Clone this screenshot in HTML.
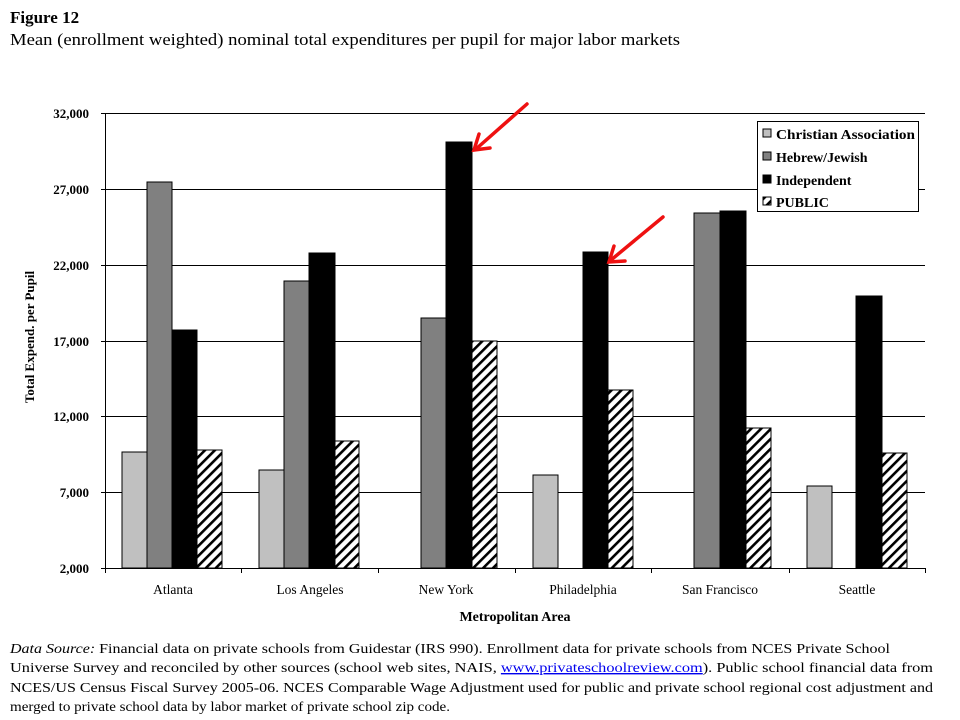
<!DOCTYPE html>
<html><head><meta charset="utf-8"><style>
html,body{margin:0;padding:0;background:#fff;}
svg{display:block;font-family:"Liberation Serif",serif;}
</style></head><body>
<svg width="960" height="720" viewBox="0 0 960 720" xmlns="http://www.w3.org/2000/svg">
<defs>
<pattern id="h" patternUnits="userSpaceOnUse" width="7" height="7" patternTransform="rotate(45)">
<rect width="7" height="7" fill="#fff"/><rect x="0" y="0" width="2.6" height="7" fill="#000"/>
</pattern>
</defs>
<text x="10" y="23" font-size="17" font-weight="bold">Figure 12</text>
<text x="10" y="45" font-size="16.5" textLength="670" lengthAdjust="spacingAndGlyphs">Mean (enrollment  weighted) nominal total expenditures per pupil for major labor markets</text>

<g stroke="#000" stroke-width="1">
<line x1="105" y1="113.5" x2="925" y2="113.5"/>
<line x1="105" y1="189.5" x2="925" y2="189.5"/>
<line x1="105" y1="265.5" x2="925" y2="265.5"/>
<line x1="105" y1="341.5" x2="925" y2="341.5"/>
<line x1="105" y1="416.5" x2="925" y2="416.5"/>
<line x1="105" y1="492.5" x2="925" y2="492.5"/>
</g>

<g stroke="#000" stroke-width="1">
<rect x="122" y="452" width="25" height="116" fill="#c0c0c0"/>
<rect x="147" y="182" width="25" height="386" fill="#808080"/>
<rect x="172" y="330" width="25" height="238" fill="#000"/>
<rect x="197" y="450" width="25" height="118" fill="url(#h)"/>
<rect x="259" y="470" width="25" height="98" fill="#c0c0c0"/>
<rect x="284" y="281" width="25" height="287" fill="#808080"/>
<rect x="309" y="253" width="26" height="315" fill="#000"/>
<rect x="335" y="441" width="24" height="127" fill="url(#h)"/>
<rect x="421" y="318" width="25" height="250" fill="#808080"/>
<rect x="446" y="142" width="26" height="426" fill="#000"/>
<rect x="472" y="341" width="25" height="227" fill="url(#h)"/>
<rect x="533" y="475" width="25" height="93" fill="#c0c0c0"/>
<rect x="583" y="252" width="25" height="316" fill="#000"/>
<rect x="608" y="390" width="25" height="178" fill="url(#h)"/>
<rect x="694" y="213" width="26" height="355" fill="#808080"/>
<rect x="720" y="211" width="26" height="357" fill="#000"/>
<rect x="746" y="428" width="25" height="140" fill="url(#h)"/>
<rect x="807" y="486" width="25" height="82" fill="#c0c0c0"/>
<rect x="856" y="296" width="26" height="272" fill="#000"/>
<rect x="882" y="453" width="25" height="115" fill="url(#h)"/>
</g>

<g stroke="#000" stroke-width="1">
<line x1="105.5" y1="113" x2="105.5" y2="573"/>
<line x1="101" y1="568.5" x2="925" y2="568.5"/>
<line x1="101" y1="113.5" x2="105" y2="113.5"/>
<line x1="101" y1="189.5" x2="105" y2="189.5"/>
<line x1="101" y1="265.5" x2="105" y2="265.5"/>
<line x1="101" y1="341.5" x2="105" y2="341.5"/>
<line x1="101" y1="416.5" x2="105" y2="416.5"/>
<line x1="101" y1="492.5" x2="105" y2="492.5"/>
<line x1="241.5" y1="568" x2="241.5" y2="573"/>
<line x1="378.5" y1="568" x2="378.5" y2="573"/>
<line x1="515.5" y1="568" x2="515.5" y2="573"/>
<line x1="651.5" y1="568" x2="651.5" y2="573"/>
<line x1="789.5" y1="568" x2="789.5" y2="573"/>
<line x1="925.5" y1="568" x2="925.5" y2="573"/>
</g>

<g font-size="13" font-weight="bold" text-anchor="end">
<text x="89" y="118">32,000</text>
<text x="89" y="194">27,000</text>
<text x="89" y="270">22,000</text>
<text x="89" y="346">17,000</text>
<text x="89" y="421">12,000</text>
<text x="89" y="497">7,000</text>
<text x="89" y="573">2,000</text>
</g>
<text transform="translate(34,337) rotate(-90)" font-size="13" font-weight="bold" text-anchor="middle">Total Expend. per Pupil</text>

<g font-size="13.5" text-anchor="middle">
<text x="173" y="594">Atlanta</text>
<text x="310" y="594">Los Angeles</text>
<text x="446" y="594">New York</text>
<text x="583" y="594">Philadelphia</text>
<text x="720" y="594">San Francisco</text>
<text x="857" y="594">Seattle</text>
</g>
<text x="515" y="621" font-size="14" font-weight="bold" text-anchor="middle">Metropolitan Area</text>

<rect x="757.5" y="121.5" width="161" height="90" fill="#fff" stroke="#000"/>
<g stroke="#000" stroke-width="1">
<rect x="763" y="129" width="8" height="8" fill="#c0c0c0"/>
<rect x="763" y="152" width="8" height="8" fill="#808080"/>
<rect x="763" y="175" width="8" height="8" fill="#000"/>
<rect x="763" y="197" width="8" height="8" fill="url(#h)"/>
</g>
<g font-size="14" font-weight="bold">
<text x="776" y="139" textLength="139" lengthAdjust="spacingAndGlyphs">Christian Association</text>
<text x="776" y="162">Hebrew/Jewish</text>
<text x="776" y="185">Independent</text>
<text x="776" y="207">PUBLIC</text>
</g>

<g stroke="#ee1111" stroke-width="3.5" fill="none" stroke-linecap="round">
<line x1="527" y1="104" x2="476" y2="149"/>
<polyline points="479,134 474,150 490,148"/>
<line x1="663" y1="217" x2="611" y2="260"/>
<polyline points="614,246 609,262 625,261"/>
</g>

<g font-size="14">
<text x="10" y="653" textLength="880" lengthAdjust="spacingAndGlyphs"><tspan font-style="italic">Data Source:</tspan> Financial  data on private  schools from Guidestar  (IRS 990).  Enrollment  data for private  schools from  NCES Private  School</text>
<text x="10" y="672" textLength="923" lengthAdjust="spacingAndGlyphs">Universe  Survey and reconciled  by other sources (school web sites,  NAIS, <tspan fill="#0000ee" text-decoration="underline">www.privateschoolreview.com</tspan>).  Public  school financial  data from</text>
<text x="10" y="692" textLength="923" lengthAdjust="spacingAndGlyphs">NCES/US Census Fiscal Survey 2005-06. NCES Comparable Wage Adjustment  used for public  and private  school regional  cost adjustment  and</text>
<text x="10" y="711" textLength="440" lengthAdjust="spacingAndGlyphs">merged to private  school data by labor market of private  school zip  code.</text>
</g>
</svg>
</body></html>
